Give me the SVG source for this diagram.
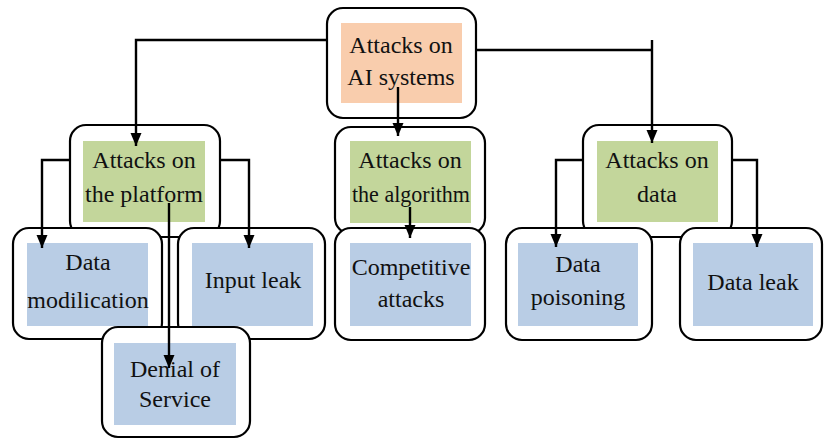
<svg xmlns="http://www.w3.org/2000/svg" width="824" height="439" viewBox="0 0 824 439">
<defs>
<style>
.box{fill:#fff;stroke:#000;stroke-width:2.2}
.orange{fill:#f9cdad}
.green{fill:#c3d69b}
.blue{fill:#b9cde5}
.t{font-family:"Liberation Serif","Times New Roman",serif;font-size:24px;fill:#111;text-anchor:middle}
.c{fill:none;stroke:#000;stroke-width:2.4}
</style>
<marker id="ah" viewBox="0 0 13 12" markerWidth="13" markerHeight="12" refX="13" refY="6" orient="auto" markerUnits="userSpaceOnUse"><path d="M0,0.5 L13,6 L0,11.5 Z" fill="#000"/></marker>
</defs>
<rect width="824" height="439" fill="#fff"/>
<g id="n-ai">
<rect class="box" x="327" y="8" width="149" height="110" rx="16"/>
<rect class="orange" x="341" y="23" width="121" height="80"/>
<text class="t" x="401" y="53">Attacks on</text>
<text class="t" x="401" y="85">AI systems</text>
</g>
<g id="n-platform">
<rect class="box" x="70" y="125" width="150" height="112" rx="16"/>
<rect class="green" x="83" y="141" width="122" height="81"/>
<text class="t" x="144" y="168">Attacks on</text>
<text class="t" x="144" y="202">the platform</text>
</g>
<g id="n-algorithm">
<rect class="box" x="335" y="127" width="150" height="107" rx="16"/>
<rect class="green" x="350" y="141" width="121" height="82"/>
<text class="t" x="410" y="168">Attacks on</text>
<text class="t" x="411" y="202" textLength="118" lengthAdjust="spacingAndGlyphs">the algorithm</text>
</g>
<g id="n-data">
<rect class="box" x="583" y="125" width="149" height="112" rx="16"/>
<rect class="green" x="597" y="141" width="121" height="81"/>
<text class="t" x="657" y="168">Attacks on</text>
<text class="t" x="657" y="202">data</text>
</g>
<g id="n-modification">
<rect class="box" x="13" y="228" width="149" height="111" rx="16"/>
<rect class="blue" x="27" y="243" width="121" height="83"/>
<text class="t" x="88" y="270">Data</text>
<text class="t" x="88" y="308">modilication</text>
</g>
<g id="n-inputleak">
<rect class="box" x="178" y="228" width="147" height="111" rx="16"/>
<rect class="blue" x="192" y="243" width="121" height="83"/>
<text class="t" x="253" y="288">Input leak</text>
</g>
<g id="n-competitive">
<rect class="box" x="335" y="228" width="150" height="112" rx="16"/>
<rect class="blue" x="350" y="243" width="121" height="83"/>
<text class="t" x="411" y="275">Competitive</text>
<text class="t" x="411" y="307">attacks</text>
</g>
<g id="n-poisoning">
<rect class="box" x="506" y="228" width="146" height="112" rx="16"/>
<rect class="blue" x="518" y="243" width="120" height="83"/>
<text class="t" x="578" y="272">Data</text>
<text class="t" x="578" y="305">poisoning</text>
</g>
<g id="n-dataleak">
<rect class="box" x="680" y="228" width="142" height="112" rx="16"/>
<rect class="blue" x="693" y="243" width="120" height="83"/>
<text class="t" x="753" y="290">Data leak</text>
</g>
<g id="n-denial">
<rect class="box" x="102" y="327" width="148" height="110" rx="16"/>
<rect class="blue" x="114" y="343" width="122" height="82"/>
<text class="t" x="175" y="377">Denial of</text>
<text class="t" x="175" y="407">Service</text>
</g>
<g id="connectors">
<path class="c" d="M327,40 H136 V146" marker-end="url(#ah)"/>
<path class="c" d="M398,87 V136" marker-end="url(#ah)"/>
<path class="c" d="M476,50 H652 M652,40 V143" marker-end="url(#ah)"/>
<path class="c" d="M70,160 H42 V248" marker-end="url(#ah)"/>
<path class="c" d="M220,160 H249 V248" marker-end="url(#ah)"/>
<path class="c" d="M169,203 V368" marker-end="url(#ah)"/>
<path class="c" d="M410,207 V238" marker-end="url(#ah)"/>
<path class="c" d="M583,160 H556 V247" marker-end="url(#ah)"/>
<path class="c" d="M732,160 H757 V247" marker-end="url(#ah)"/>
</g>
</svg>
